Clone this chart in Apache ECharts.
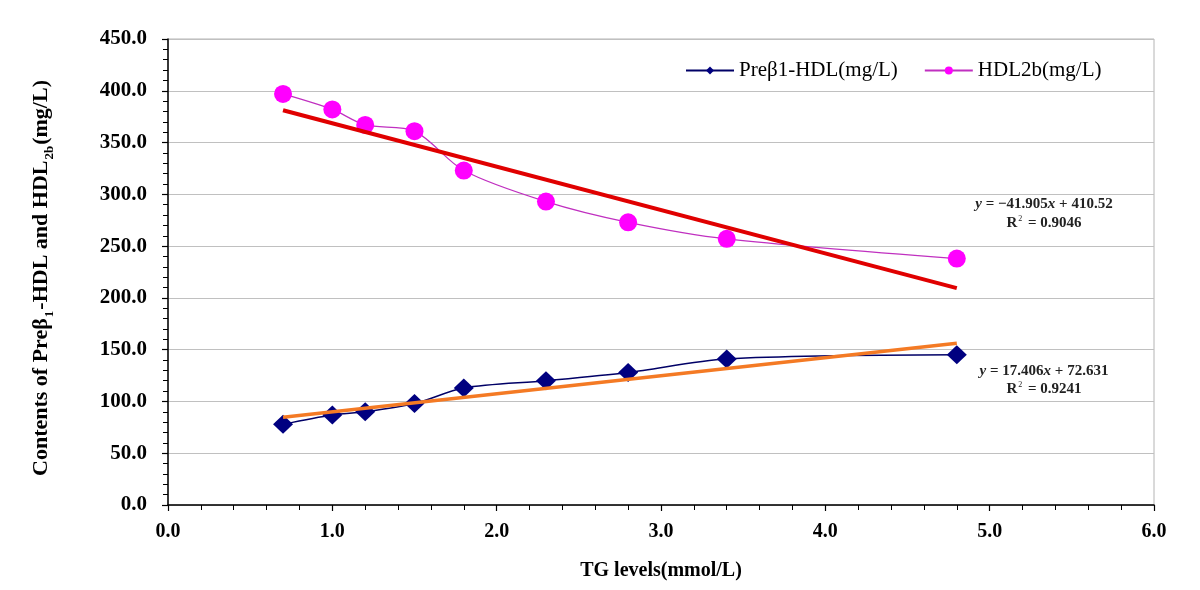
<!DOCTYPE html>
<html>
<head>
<meta charset="utf-8">
<script src="https://cdn.jsdelivr.net/npm/echarts@6/dist/echarts.min.js"></script>
<style>
html,body{margin:0;padding:0;background:#fff;}
#chart{width:1200px;height:590px;}
</style>
</head>
<body>
<div id="chart"></div>
<script>
// ---- data ----
const tgLevels = [0.7, 1.0, 1.2, 1.5, 1.8, 2.3, 2.8, 3.4, 4.8];
const preB1HDL = [78, 87, 90, 98, 113, 120, 128, 141, 145];
const hdl2b    = [397, 382, 367, 361, 323, 293, 273, 257, 238];
// linear trend lines (end points, from the printed equations)
const trendX       = [0.7, 4.8];
const preB1Trend   = [84.8, 156.2];
const hdl2bTrend   = [381.2, 209.4];
const seriesNames  = ['Preβ1-HDL(mg/L)', 'HDL2b(mg/L)'];
const eqHdl  = ['y = −41.905x + 410.52', '0.9046'];
const eqPre  = ['y = 17.406x + 72.631', '0.9241'];

const FONT = 'Liberation Serif';
const pairs = (xs, ys) => xs.map((x, i) => [x, ys[i]]);

const chart = echarts.init(document.getElementById('chart'), null, {renderer: 'canvas'});

function eqGraphic(lines, cx, y1, y2) {
  const parts = lines[0].split(/(y|x)/).filter(s => s.length);
  const txt = parts.map(p => (p === 'x' || p === 'y') ? '{i|' + p + '}' : '{n|' + p + '}').join('');
  return [
    {type: 'text', x: cx, y: y1, z: 100,
     style: {text: txt, align: 'center', verticalAlign: 'middle',
       rich: {i: {fontFamily: FONT, fontSize: 15, fontStyle: 'italic', fontWeight: 'bold', fill: '#222'},
              n: {fontFamily: FONT, fontSize: 15, fontWeight: 'bold', fill: '#222'}}}},
    {type: 'text', x: cx, y: y2, z: 100,
     style: {text: '{n|R}{s|2}{n| = ' + lines[1] + '}', align: 'center', verticalAlign: 'middle',
       rich: {n: {fontFamily: FONT, fontSize: 15, fontWeight: 'bold', fill: '#222', verticalAlign: 'bottom'},
              s: {fontFamily: FONT, fontSize: 8, fill: '#222', verticalAlign: 'top', padding: [0, 2, 8, 1]}}}}
  ];
}

const option = {
  animation: false,
  backgroundColor: '#fff',
  grid: {left: 168, right: 46, top: 39, bottom: 85, show: true, borderColor: '#b4b4b4', borderWidth: 1},
  legend: {
    data: seriesNames,
    left: 680, top: 55,
    itemWidth: 48, itemHeight: 10, itemGap: 26,
    textStyle: {fontFamily: FONT, fontSize: 21, color: '#000'}
  },
  xAxis: {
    type: 'value', min: 0, max: 6, interval: 1,
    name: 'TG levels(mmol/L)', nameLocation: 'middle', nameGap: 56,
    nameTextStyle: {fontFamily: FONT, fontSize: 20, fontWeight: 'bold', color: '#000'},
    axisLine: {lineStyle: {color: '#000', width: 1.5}},
    axisTick: {length: 6, lineStyle: {color: '#000', width: 1.2}},
    minorTick: {show: true, splitNumber: 5, length: 5, lineStyle: {color: '#000', width: 1}},
    splitLine: {show: false},
    axisLabel: {formatter: v => v.toFixed(1), fontFamily: FONT, fontSize: 20, fontWeight: 'bold', color: '#000', margin: 17}
  },
  yAxis: {
    type: 'value', min: 0, max: 450, interval: 50,
    name: '{a|Contents of Preβ}{s|1}{a|-HDL and HDL}{s|2b}{a|(mg/L)}',
    nameLocation: 'middle', nameGap: 116, nameRotate: 90,
    nameTextStyle: {
      padding: [0, 12, 0, 0],
      rich: {
        a: {fontFamily: FONT, fontSize: 22, fontWeight: 'bold', color: '#000', verticalAlign: 'bottom', lineHeight: 24},
        s: {fontFamily: FONT, fontSize: 13, fontWeight: 'bold', color: '#000', verticalAlign: 'bottom', lineHeight: 24, padding: [0, 1, -4, 1]}
      }
    },
    axisLine: {show: true, lineStyle: {color: '#000', width: 1.5}},
    axisTick: {length: 6, lineStyle: {color: '#000', width: 1.2}},
    minorTick: {show: true, splitNumber: 5, length: 5, lineStyle: {color: '#000', width: 1}},
    splitLine: {lineStyle: {color: '#c0c0c0', width: 1}},
    axisLabel: {formatter: v => v.toFixed(1), fontFamily: FONT, fontSize: 21, fontWeight: 'bold', color: '#000', margin: 21}
  },
  series: [
    {
      name: seriesNames[0], type: 'line', data: pairs(tgLevels, preB1HDL),
      smooth: 0.3, symbol: 'diamond', symbolSize: [20, 19],
      lineStyle: {color: '#000066', width: 1.5},
      itemStyle: {color: '#000080'}, z: 2
    },
    {
      name: seriesNames[1], type: 'line', data: pairs(tgLevels, hdl2b),
      smooth: 0.3, symbol: 'circle', symbolSize: 18,
      lineStyle: {color: '#c030c0', width: 1.2},
      itemStyle: {color: '#ff00ff'}, z: 2
    },
    {
      name: 'hdlTrend', type: 'line', data: pairs(trendX, hdl2bTrend),
      symbol: 'none', lineStyle: {color: '#e00000', width: 4}, z: 3, silent: true
    },
    {
      name: 'preTrend', type: 'line', data: pairs(trendX, preB1Trend),
      symbol: 'none', lineStyle: {color: '#f47a24', width: 3.5}, z: 3, silent: true
    }
  ],
  graphic: [].concat(eqGraphic(eqHdl, 1044, 204, 223), eqGraphic(eqPre, 1044, 371, 389))
};
chart.setOption(option);
</script>
</body>
</html>
